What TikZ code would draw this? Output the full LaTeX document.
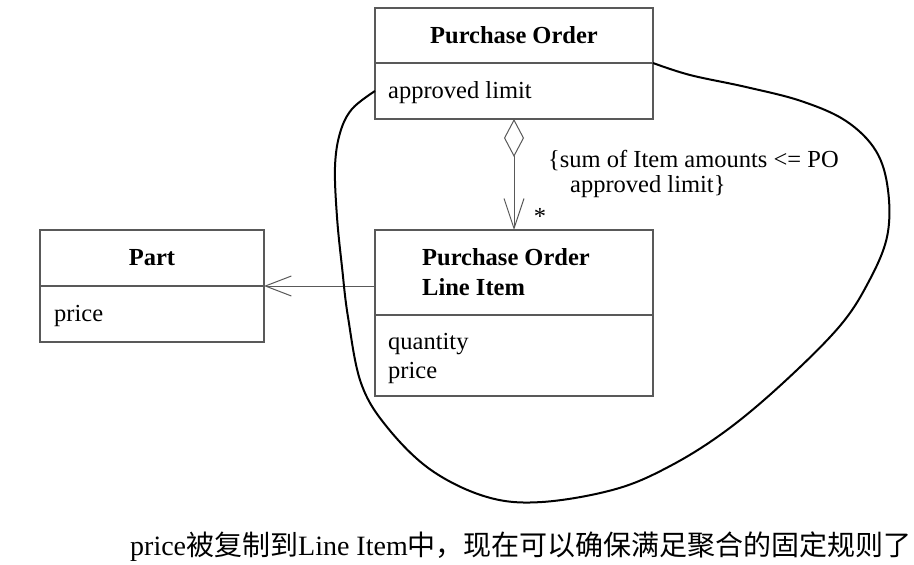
\documentclass[tikz,border=0pt]{standalone}
\usepackage{fontspec}
\setmainfont{Liberation Serif}
\newfontfamily\cjk{Noto Sans CJK SC}
\usetikzlibrary{arrows.meta}
\begin{document}
\begin{tikzpicture}[x=1pt,y=-1pt,
  font=\fontsize{24.5}{30}\selectfont,
  box/.style={draw=black!65, line width=1.2pt, minimum width=278pt, inner sep=0pt, outer sep=0pt},
  pbox/.style={box, minimum width=224pt},
  title/.style={font=\fontsize{24.5}{30}\selectfont\bfseries, inner sep=0pt},
  attr/.style={inner sep=0pt, anchor=base west},
  conn/.style={draw=black!65, line width=1pt},
  loopline/.style={draw=black, line width=2pt}
]
\useasboundingbox (0,0) rectangle (914,565);

% Purchase Order
\node[box, minimum height=55pt] (poh) at (514,35.5) {};
\node[box, minimum height=56pt] (poa) at (514,91) {};
\node[title, anchor=base] (poht) at (514,43) {Purchase Order};
\node[attr] (poat) at (388,98) {approved limit};

% Part
\node[pbox, minimum height=56pt] (parth) at (152,258) {};
\node[pbox, minimum height=56pt] (parta) at (152,314) {};
\node[title, anchor=base] (partt) at (152,265) {Part};
\node[attr] (partp) at (54,321) {price};

% Purchase Order Line Item
\node[box, minimum height=85pt] (lih) at (514,272.5) {};
\node[box, minimum height=81pt] (lia) at (514,355.5) {};
\node[title, anchor=base west] (liht1) at (422,265) {Purchase Order};
\node[title, anchor=base west] (liht2) at (422,295) {Line Item};
\node[attr] (liq) at (388,349) {quantity};
\node[attr] (lip) at (388,378) {price};

% aggregation
\draw[conn, {Diamond[open, length=38pt, width=20pt, line width=1pt]}-{Straight Barb[length=30pt, width=20pt, line width=1pt]}]
  (poa.south) -- (lih.north);
\node[inner sep=0pt, anchor=base] (mult) at (540,224) {*};
\node[attr] (cons1) at (548,167) {\{sum of Item amounts <= PO};
\node[attr] (cons2) at (570,192) {approved limit\}};

% association to Part
\draw[conn, -{Straight Barb[length=26pt, width=20pt, line width=1pt]}]
  (lih.west |- parth.south) -- (parth.south east);

% constraint loop
\draw[loopline] plot[smooth, tension=0.6] coordinates {
  (poa.north east) (690,75) (746,87) (801,101) (846,121) (876,151) (888,190)
  (887,237) (868,283) (839,327) (783,383) (727,430) (672,465) (616,489)
  (542,502) (487,497) (431,470) (387,427) (361,383) (348,317) (342,267)
  (337,217) (335,167) (340,133) (352,109) (poa.west)};

% caption
\node[inner sep=0pt, anchor=base west, font=\fontsize{28}{30}\selectfont] (cap) at (130,555)
  {price{\cjk 被复制到}Line Item{\cjk 中，现在可以确保满足聚合的固定规则了}};
\end{tikzpicture}
\end{document}
